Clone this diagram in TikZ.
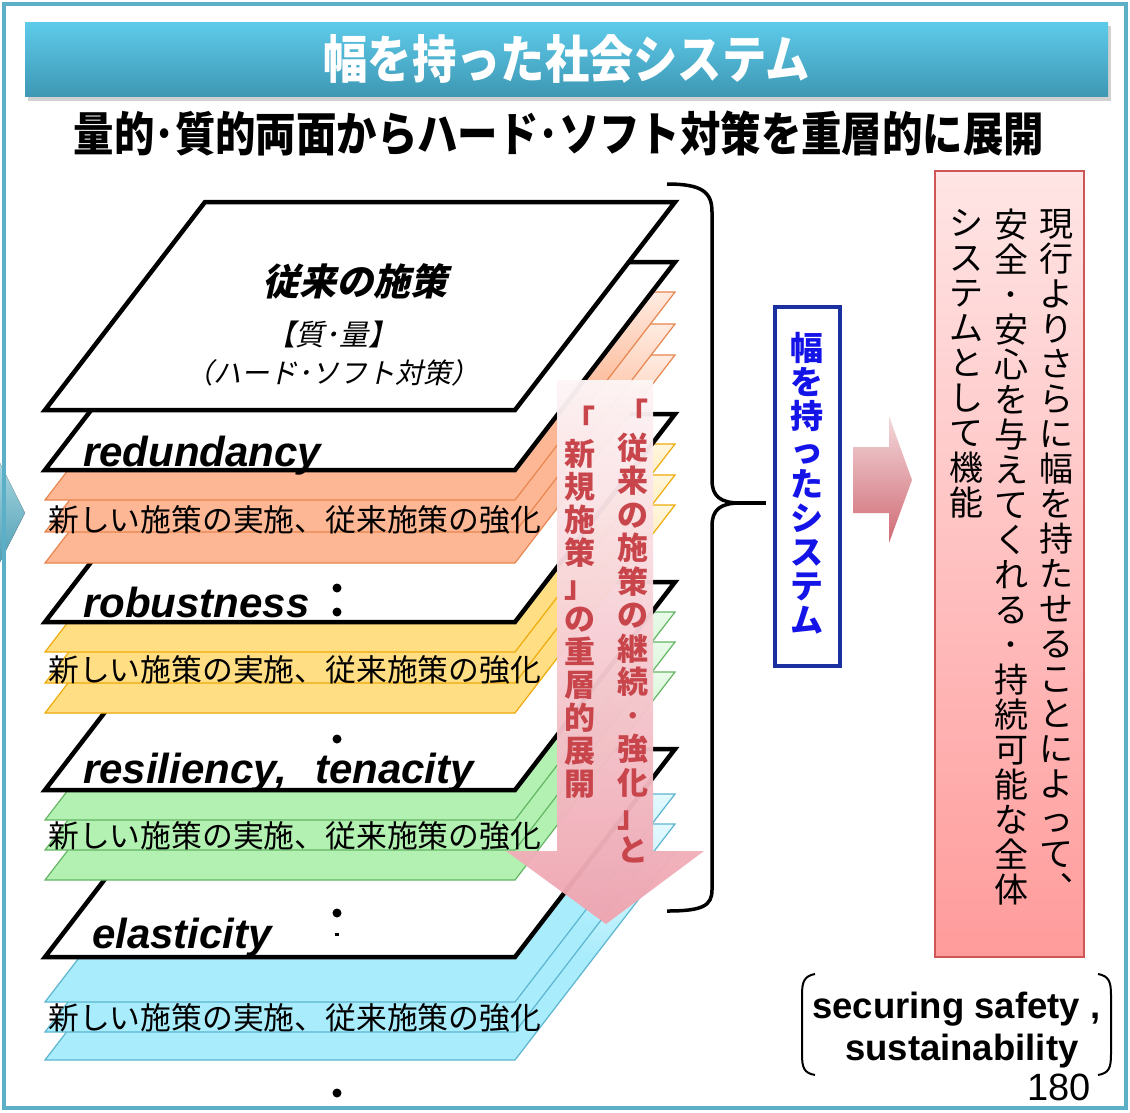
\documentclass[tikz,border=0pt]{standalone}
\usepackage{fontspec}
\setmainfont{Liberation Sans}
\newfontfamily\jp{Noto Sans CJK JP}
\newfontfamily\jpc{Noto Sans CJK JP}[FakeStretch=0.86]
\newfontfamily\jpit{Noto Sans CJK JP}[FakeSlant=0.22]
\newfontfamily\ar{Liberation Sans}
\definecolor{chevTop}{HTML}{A7D5E0}
\definecolor{chevBot}{HTML}{4F9FB5}
\definecolor{bartop}{HTML}{5ECBEA}
\definecolor{barbot}{HTML}{3E98B4}
\definecolor{orFill}{HTML}{FDB794}
\definecolor{orTop}{HTML}{FEEBE1}
\definecolor{orLine}{HTML}{E9854F}
\definecolor{yeFill}{HTML}{FFDE84}
\definecolor{yeTop}{HTML}{FFF6DE}
\definecolor{yeLine}{HTML}{EFAB0A}
\definecolor{grFill}{HTML}{B2F1B2}
\definecolor{grTop}{HTML}{EAFAEA}
\definecolor{grLine}{HTML}{64B564}
\definecolor{blFill}{HTML}{A9ECFC}
\definecolor{blTop}{HTML}{E3F9FE}
\definecolor{blLine}{HTML}{5CB5D0}
\definecolor{arrTop}{HTML}{FDF5F6}
\definecolor{arrBot}{HTML}{EFA4B0}
\definecolor{arrText}{HTML}{C8464B}
\definecolor{boxblue}{HTML}{1A2FA0}
\definecolor{txtblue}{HTML}{1414E8}
\definecolor{rbTop}{HTML}{FFE5E5}
\definecolor{rbBot}{HTML}{FF9B9B}
\definecolor{rbLine}{HTML}{CF5656}
\definecolor{smTop}{HTML}{F2D8DB}
\definecolor{smBot}{HTML}{D06A74}
\definecolor{frameblue}{HTML}{5BB0C8}
\tikzset{
  wlay/.style={fill=white, draw=black, line width=4.5pt, line join=miter},
  clay/.style={draw=#1Line, line width=1.2pt, top color=#1Top, bottom color=#1Fill, middle color=#1Fill},
  newtxt/.style={anchor=west, inner sep=0pt, font=\jp\fontsize{30.8}{34}\selectfont},
  entxt/.style={anchor=base west, inner sep=0pt, font=\ar\bfseries\itshape\fontsize{42}{46}\selectfont},
  vcol/.style={align=center, inner sep=0pt, anchor=north},
  dotmark/.style={fill=black},
}
\newcommand\mylay[2]{\path[#2] (45,#1) -- (515,#1) -- (675,#1-208) -- (205,#1-208) -- cycle;}
\begin{document}
\begin{tikzpicture}[x=1pt,y=-1pt]
\useasboundingbox (0,0) rectangle (1130,1112);
\fill[white] (0,0) rectangle (1130,1112);
% left chevron
\fill[top color=chevTop, bottom color=chevBot] (0,463) -- (25,513) -- (0,562) -- cycle;
% title bar
\fill[black, opacity=0.18] (28,26) rectangle (1111,101);
\node[minimum width=1083pt, minimum height=74pt, inner sep=0pt, top color=bartop, bottom color=barbot,
      text=white, font=\jpc\bfseries\fontsize{51.5}{56}\selectfont] (title) at (566.5,59) {幅を持った社会システム};
\node[font=\jpc\bfseries\fontsize{47}{50}\selectfont, inner sep=0pt] (subtitle) at (559,134) {量的･質的両面からハード･ソフト対策を重層的に展開};
% layers, back to front
\mylay{1060}{clay=bl}
\mylay{1032}{clay=bl}
\mylay{1002}{clay=bl}
\mylay{957}{wlay}
\mylay{880}{clay=gr}
\mylay{850}{clay=gr}
\mylay{820}{clay=gr}
\mylay{790}{wlay}
\mylay{713}{clay=ye}
\mylay{683}{clay=ye}
\mylay{652}{clay=ye}
\mylay{622}{wlay}
\mylay{563}{clay=or}
\mylay{532}{clay=or}
\mylay{500}{clay=or}
\mylay{470}{wlay}
\mylay{410}{wlay}
% top layer texts
\node[font=\jpit\bfseries\fontsize{37}{40}\selectfont, inner sep=0pt] (t1) at (355,281) {従来の施策};
\node[font=\jpit\fontsize{29}{30}\selectfont, inner sep=0pt] (t2) at (332,334) {【質･量】};
\node[font=\jpit\fontsize{28}{30}\selectfont, inner sep=0pt] (t3) at (332,373) {（ハード･ソフト対策）};
% layer labels
\node[entxt] (lred) at (83,466) {redundancy};
\node[entxt] (lrob) at (83,617) {robustness};
\node[entxt] (lres) at (83,783) {resiliency,\hspace{28pt}tenacity};
\node[entxt] (lela) at (92,948) {elasticity};
\node[newtxt] (n1) at (48,520) {新しい施策の実施、従来施策の強化};
\node[newtxt] (n2) at (48,670) {新しい施策の実施、従来施策の強化};
\node[newtxt] (n3) at (48,836) {新しい施策の実施、従来施策の強化};
\node[newtxt] (n4) at (48,1018) {新しい施策の実施、従来施策の強化};
% dots
\fill[dotmark] (337,588) circle[radius=4.5pt];
\fill[dotmark] (337,612) circle[radius=4.5pt];
\fill[dotmark] (337,739) circle[radius=4.5pt];
\fill[dotmark] (337,913) circle[radius=4.5pt];
\fill[dotmark] (335,933) rectangle (339,935.5);
\fill[dotmark] (337,1093) circle[radius=4.5pt];
% big down arrow
\path[top color=arrTop, bottom color=arrBot, opacity=0.96]
  (557,380) -- (653,380) -- (653,851) -- (704,851) -- (606,924) -- (506,851) -- (557,851) -- cycle;
\node[vcol, text=arrText, font=\jp\bfseries\fontsize{31}{33.5}\selectfont] (acol1) at (633,399)
  {「\\従\\来\\の\\施\\策\\の\\継\\続\\･\\強\\化\\」\\と};
\node[vcol, text=arrText, font=\jp\bfseries\fontsize{31}{33}\selectfont] (acol2) at (580,406)
  {「\\新\\規\\施\\策\\」\\の\\重\\層\\的\\展\\開};
% brace
\coordinate (btip) at (740,503);
\coordinate (bend) at (766,503);
\draw[line width=3.5pt] (667,184) .. controls (702,184) and (712,192) .. (712,212) -- (712,480) .. controls (712,496) and (720,503) .. (btip);
\draw[line width=3.5pt] (btip) .. controls (720,503) and (712,510) .. (712,526) -- (712,890) .. controls (712,906) and (702,911) .. (667,911);
\draw[line width=3.5pt] (btip) -- (bend);
% blue box
\node[draw=boxblue, line width=4pt, fill=white, minimum width=65pt, minimum height=359pt, inner sep=0pt] (bbox) at (807.5,486.5) {};
\node[vcol, text=txtblue, font=\jp\bfseries\fontsize{33}{34}\selectfont] (btext) at (807,332)
  {幅\\を\\持\\っ\\た\\シ\\ス\\テ\\ム};
% small right arrow
\path[top color=smTop, bottom color=smBot] (853,447) -- (889,447) -- (889,416) -- (912,480) -- (889,543) -- (889,513) -- (853,513) -- cycle;
% right pink box
\node[draw=rbLine, line width=2pt, top color=rbTop, bottom color=rbBot, minimum width=149pt, minimum height=786pt, inner sep=0pt] (rbox) at (1009.5,564) {};
\node[vcol, font=\jp\fontsize{34}{35}\selectfont] (rc1) at (1056,209)
  {現\\行\\よ\\り\\さ\\ら\\に\\幅\\を\\持\\た\\せ\\る\\こ\\と\\に\\よ\\っ\\て\\︑};
\node[vcol, font=\jp\fontsize{34}{35}\selectfont] (rc2) at (1011,209)
  {安\\全\\･\\安\\心\\を\\与\\え\\て\\く\\れ\\る\\･\\持\\続\\可\\能\\な\\全\\体};
\node[vcol, font=\jp\fontsize{34}{35}\selectfont] (rc3) at (966,209)
  {シ\\ス\\テ\\ム\\と\\し\\て\\機\\能};
% securing safety
\draw[line width=2pt] (815,974) .. controls (804,976) and (802,982) .. (802,995) -- (802,1054) .. controls (802,1068) and (804,1073) .. (815,1075);
\draw[line width=2pt] (1098,974) .. controls (1109,976) and (1111,982) .. (1111,995) -- (1111,1054) .. controls (1111,1068) and (1109,1073) .. (1098,1075);
\node[anchor=base west, inner sep=0pt, font=\ar\bfseries\fontsize{36.5}{40}\selectfont] (sec1) at (812,1018) {securing safety ,};
\node[anchor=base west, inner sep=0pt, font=\ar\bfseries\fontsize{36.5}{40}\selectfont] (sec2) at (845,1060) {sustainability};
\node[anchor=base east, inner sep=0pt, font=\ar\fontsize{38}{40}\selectfont] (pg) at (1091,1100) {180};
% frame
\draw[frameblue, line width=4pt] (4,4) rectangle (1126,1108);
\end{tikzpicture}
\end{document}
